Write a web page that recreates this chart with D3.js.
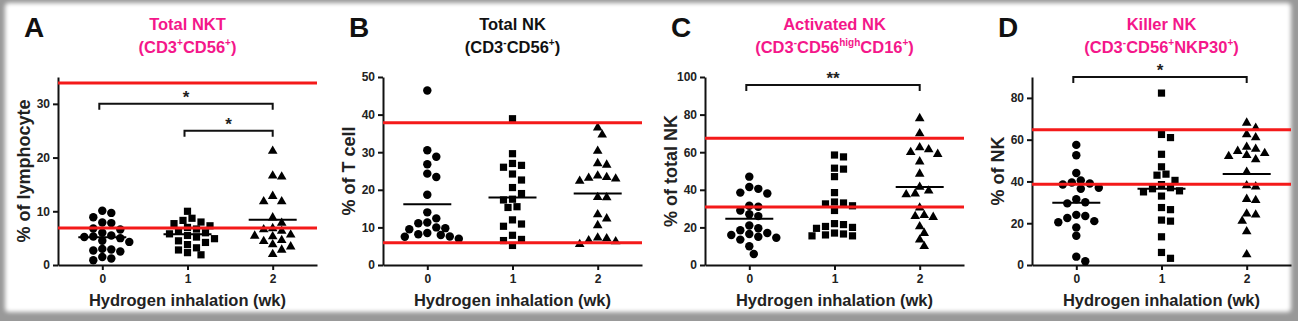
<!DOCTYPE html>
<html>
<head>
<meta charset="utf-8">
<script src="https://cdn.jsdelivr.net/npm/d3@7"></script>
<style>
  html, body { margin: 0; padding: 0; background: #fff; }
  svg { display: block; font-family: "Liberation Sans", Arial, sans-serif; }
</style>
</head>
<body>
<svg id="chart" width="1298" height="321"></svg>
<script>
(function () {
    'use strict';

    // weeks of hydrogen inhalation
    var weeks = ["0", "1", "2"];

    // % of lymphocyte, total NKT (CD3+CD56+)
    var nktWeek0 = [10.1, 9.7, 8.9, 7.9, 7.8, 6.8, 6.6, 6.0, 5.5, 5.3, 5.2, 5.0, 4.5, 4.3, 3.0, 2.9, 2.7, 2.5, 1.5, 1.2, 0.9];
    var nktWeek1 = [10.0, 8.7, 8.3, 8.0, 7.7, 7.3, 7.0, 6.7, 6.3, 6.0, 5.8, 5.5, 5.2, 4.9, 4.5, 4.2, 3.8, 3.2, 2.8, 2.3, 1.9];
    var nktWeek2 = [21.4, 16.8, 16.6, 13.0, 12.0, 12.0, 9.0, 8.0, 7.0, 6.8, 6.5, 5.8, 5.6, 5.5, 4.8, 4.6, 4.0, 3.6, 3.0, 2.2];

    // % of T cell, total NK (CD3-CD56+)
    var nkWeek0 = [46.4, 30.5, 28.8, 26.8, 24.3, 23.4, 18.7, 14.0, 12.4, 11.3, 11.1, 10.0, 9.8, 9.5, 8.5, 8.2, 8.0, 7.6, 7.5, 7.0];
    var nkWeek1 = [38.9, 29.6, 27.0, 26.5, 26.0, 24.2, 22.6, 20.6, 19.0, 17.5, 17.3, 15.5, 15.3, 12.0, 10.9, 10.3, 7.9, 6.8, 6.5, 5.2];
    var nkWeek2 = [36.8, 34.9, 30.6, 27.3, 26.9, 24.0, 23.6, 23.4, 23.2, 22.6, 18.3, 18.2, 13.7, 12.6, 10.8, 7.5, 7.3, 6.8, 6.5, 5.8];

    // % of total NK, activated NK (CD3-CD56highCD16+)
    var actWeek0 = [47.0, 41.5, 40.5, 38.5, 38.0, 31.5, 31.0, 29.0, 27.0, 26.0, 21.0, 19.5, 18.5, 17.0, 16.5, 16.0, 15.0, 14.5, 13.5, 10.0, 5.8];
    var actWeek1 = [58.5, 57.5, 51.5, 51.0, 47.0, 38.5, 33.5, 33.0, 32.5, 31.5, 29.0, 22.0, 21.5, 20.5, 20.0, 19.5, 17.0, 16.5, 16.0, 15.5, 15.5];
    var actWeek2 = [78.5, 70.5, 63.0, 62.0, 60.5, 59.5, 55.5, 49.0, 42.0, 40.0, 38.5, 38.0, 31.0, 27.0, 26.5, 26.0, 21.0, 17.5, 14.0, 10.5];

    // % of NK, killer NK (CD3-CD56+NKP30+)
    var killWeek0 = [57.5, 52.5, 44.0, 40.5, 39.5, 39.0, 38.5, 37.0, 36.5, 31.5, 30.0, 29.5, 24.0, 23.5, 22.5, 21.0, 20.5, 18.0, 14.0, 4.0, 1.8];
    var killWeek1 = [82.3, 62.5, 61.0, 53.0, 47.0, 43.5, 43.0, 40.5, 38.5, 37.0, 36.5, 35.5, 35.0, 33.0, 27.5, 26.5, 21.5, 21.0, 13.5, 6.0, 3.2];
    var killWeek2 = [68.5, 66.0, 63.0, 61.5, 57.0, 56.0, 55.0, 54.0, 53.0, 52.5, 51.0, 45.0, 38.5, 38.0, 32.0, 31.5, 25.0, 24.5, 21.5, 16.5, 5.5];

    // normal reference range (low, high)
    var nktRange = [6.9, 33.9];
    var nkRange = [5.9, 37.8];
    var actRange = [30.8, 67.4];
    var killRange = [38.6, 64.8];

    // y ticks
    var nktTicks = [0, 10, 20, 30];
    var nkTicks = [0, 10, 20, 30, 40, 50];
    var actTicks = [0, 20, 40, 60, 80, 100];
    var killTicks = [0, 20, 40, 60, 80];

    // significance brackets: [from week, to week, level, label]
    var nktSig = [["0", "2", 30, "*"], ["1", "2", 25, "*"]];
    var nkSig = [];
    var actSig = [["0", "2", 95.7, "**"]];
    var killSig = [["0", "2", 90, "*"]];

    var pink = "#f4178a";
    var red = "#f41a1a";

    var panels = [
        { letter: "A", left: 58, yMax: 35, title: "Total NKT", color: pink,
          sub: [["(CD3", 0], ["+", 1], ["CD56", 0], ["+", 1], [")", 0]],
          ylabel: "% of lymphocyte", groups: [nktWeek0, nktWeek1, nktWeek2],
          range: nktRange, ticks: nktTicks, sig: nktSig },
        { letter: "B", left: 383, yMax: 50, title: "Total NK", color: "#111",
          sub: [["(CD3", 0], ["-", 1], ["CD56", 0], ["+", 1], [")", 0]],
          ylabel: "% of T cell", groups: [nkWeek0, nkWeek1, nkWeek2],
          range: nkRange, ticks: nkTicks, sig: nkSig },
        { letter: "C", left: 705, yMax: 100, title: "Activated NK", color: pink,
          sub: [["(CD3", 0], ["-", 1], ["CD56", 0], ["high", 1], ["CD16", 0], ["+", 1], [")", 0]],
          ylabel: "% of total NK", groups: [actWeek0, actWeek1, actWeek2],
          range: actRange, ticks: actTicks, sig: actSig },
        { letter: "D", left: 1032, yMax: 90, title: "Killer NK", color: pink,
          sub: [["(CD3", 0], ["-", 1], ["CD56", 0], ["+", 1], ["NKP30", 0], ["+", 1], [")", 0]],
          ylabel: "% of NK", groups: [killWeek0, killWeek1, killWeek2],
          range: killRange, ticks: killTicks, sig: killSig }
    ];

    var plotW = 259, plotTop = 77, plotBottom = 265;
    var shapes = [d3.symbolCircle, d3.symbolSquare, d3.symbolTriangle];
    var shapeSizes = [56, 52, 40];

    var svg = d3.select("#chart");

    // soft grey frame around the figure
    var defs = svg.append("defs");
    defs.append("filter").attr("id", "soft")
        .attr("x", "-5%").attr("y", "-5%").attr("width", "110%").attr("height", "110%")
        .append("feGaussianBlur").attr("stdDeviation", 2);
    svg.append("rect").attr("width", 1298).attr("height", 321).style("fill", "#999");
    svg.append("rect")
        .attr("x", 5).attr("y", 3).attr("width", 1286).attr("height", 309)
        .attr("rx", 4)
        .style("fill", "#fff")
        .attr("filter", "url(#soft)");

    // simple beeswarm: push points sideways until they stop overlapping
    function swarm(values, y, step, minDist) {
        var placed = [];
        values.slice().sort(d3.descending).forEach(function (v) {
            var py = y(v);
            for (var k = 0; k < 60; k++) {
                var off = (k % 2 ? 1 : -1) * Math.ceil(k / 2) * step;
                var ok = placed.every(function (p) {
                    return Math.hypot(p.dx - off, p.y - py) >= minDist;
                });
                if (ok) { placed.push({ v: v, y: py, dx: off }); break; }
            }
        });
        return placed;
    }

    panels.forEach(function (p) {
        var g = svg.append("g");

        var x = d3.scalePoint().domain(weeks).range([p.left, p.left + plotW]).padding(0.52);
        var y = d3.scaleLinear().domain([0, p.yMax]).range([plotBottom, plotTop]);

        // panel letter
        g.append("text")
            .attr("x", p.left - 34).attr("y", 37)
            .style("font-size", "28px").style("font-weight", "bold").style("fill", "#111")
            .text(p.letter);

        // title, two lines
        g.append("text")
            .attr("x", x("1")).attr("y", 30)
            .attr("text-anchor", "middle")
            .style("font-size", "16.5px").style("font-weight", "bold").style("fill", p.color)
            .text(p.title);
        var sub = g.append("text")
            .attr("x", x("1")).attr("y", 53)
            .attr("text-anchor", "middle")
            .style("font-size", "16.5px").style("font-weight", "bold").style("fill", p.color);
        var prevSup = 0;
        p.sub.forEach(function (s) {
            var t = sub.append("tspan").text(s[0]);
            if (s[1]) t.style("font-size", "10px");
            if (s[1] !== prevSup) t.attr("dy", s[1] ? -7 : 7);
            prevSup = s[1];
        });

        // axes
        var yAxis = g.append("g")
            .attr("transform", "translate(" + p.left + ",0)")
            .call(d3.axisLeft(y).tickValues(p.ticks).tickSize(5).tickSizeOuter(0).tickPadding(3));
        var xAxis = g.append("g")
            .attr("transform", "translate(0," + plotBottom + ")")
            .call(d3.axisBottom(x).tickSize(5).tickSizeOuter(0).tickPadding(4));
        [yAxis, xAxis].forEach(function (a) {
            a.select(".domain").style("stroke", "#111").style("stroke-width", 2);
            a.selectAll(".tick line").style("stroke", "#111").style("stroke-width", 2);
            a.selectAll(".tick text")
                .style("font-family", "Liberation Sans, Arial, sans-serif")
                .style("font-size", "12px").style("font-weight", "bold").style("fill", "#222");
        });

        // axis titles
        g.append("text")
            .attr("transform", "translate(" + (p.left - 28) + "," + (plotTop + plotBottom) / 2 + ") rotate(-90)")
            .attr("text-anchor", "middle")
            .style("font-size", "18px").style("font-weight", "bold").style("fill", "#222")
            .text(p.ylabel);
        g.append("text")
            .attr("x", x("1")).attr("y", 306)
            .attr("text-anchor", "middle")
            .style("font-size", "16.5px").style("font-weight", "bold").style("fill", "#222")
            .text("Hydrogen inhalation (wk)");

        // points and mean lines
        p.groups.forEach(function (vals, i) {
            var pts = swarm(vals, y, 4.5, 7.9);
            g.selectAll(null)
                .data(pts)
                .enter()
                .append("path")
                .attr("d", d3.symbol().type(shapes[i]).size(shapeSizes[i]))
                .attr("transform", function (d) {
                    return "translate(" + (x(weeks[i]) + d.dx) + "," + (d.y + (i === 2 ? 1 : 0)) + ")";
                })
                .style("fill", "#000");
            var m = d3.mean(vals);
            g.append("line")
                .attr("x1", x(weeks[i]) - 24).attr("x2", x(weeks[i]) + 24)
                .attr("y1", y(m)).attr("y2", y(m))
                .style("stroke", "#000").style("stroke-width", 2);
        });

        // normal range lines
        g.selectAll(null)
            .data(p.range)
            .enter()
            .append("line")
            .attr("x1", p.left).attr("x2", p.left + plotW)
            .attr("y1", function (d) { return y(d); })
            .attr("y2", function (d) { return y(d); })
            .style("stroke", red).style("stroke-width", 3);

        // significance brackets
        p.sig.forEach(function (s) {
            var x1 = x(s[0]) - 3, x2 = x(s[1]), yy = y(s[2]);
            g.append("path")
                .attr("d", "M" + x1 + "," + (yy + 6) + "V" + yy + "H" + x2 + "V" + (yy + 6))
                .style("fill", "none").style("stroke", "#111").style("stroke-width", 2);
            g.append("text")
                .attr("x", (x1 + x2) / 2).attr("y", yy - 1)
                .attr("text-anchor", "middle")
                .style("font-size", "17px").style("font-weight", "bold").style("fill", "#222")
                .text(s[3]);
        });
    });
}());
</script>
</body>
</html>
